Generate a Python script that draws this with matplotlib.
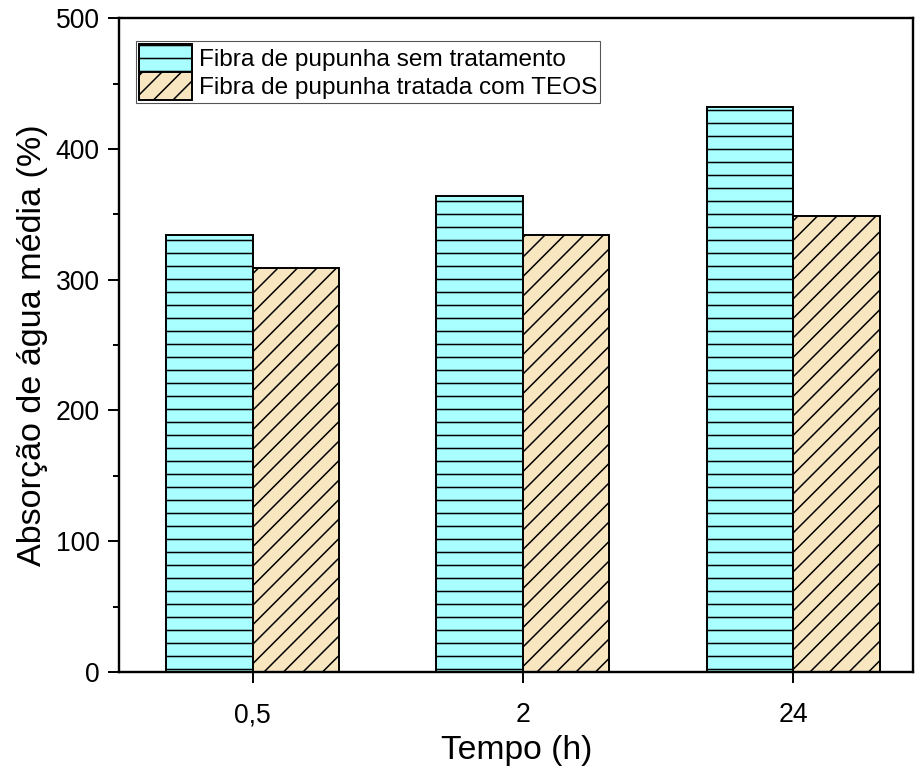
import numpy as np
import matplotlib
matplotlib.use('Agg')
import matplotlib.pyplot as plt
import matplotlib.hatch as mhatch
from matplotlib.ticker import MultipleLocator

tempos = ['0,5', '2', '24']
sem_tratamento = [334, 364, 432]
com_teos = [309, 334, 349]


# diagonal hatch a bit denser than the default '/' (8 lines per tile, seamless)
class DiagHatch(mhatch.NorthEastHatch):
    def __init__(self, hatch, density):
        super().__init__(hatch, density * 1.34)

mhatch._hatch_types[mhatch._hatch_types.index(mhatch.NorthEastHatch)] = DiagHatch

plt.rcParams['font.family'] = ['Liberation Sans', 'DejaVu Sans']
plt.rcParams['hatch.linewidth'] = 1.4

dpi = 78
fig = plt.figure(figsize=(917 / dpi, 767 / dpi), dpi=dpi)
ax = fig.add_axes([0.130, 0.124, 0.866, 0.852])

x = np.arange(1, len(tempos) + 1)
w = 0.32
ax.bar(x - w / 2, sem_tratamento, w, color='#A9FFFF', edgecolor='black',
       linewidth=1.8, hatch='-', label='Fibra de pupunha sem tratamento')
ax.bar(x + w / 2, com_teos, w, color='#F7E6C0', edgecolor='black',
       linewidth=1.8, hatch='/', label='Fibra de pupunha tratada com TEOS')

ax.set_xlim(0.507, 3.444)
ax.set_ylim(0, 500)
ax.set_xticks(x)
ax.set_xticklabels(tempos)
ax.yaxis.set_major_locator(MultipleLocator(100))
ax.yaxis.set_minor_locator(MultipleLocator(50))

for s in ax.spines.values():
    s.set_linewidth(2.2)
ax.tick_params(axis='both', which='major', direction='out', length=10, width=1.8,
               labelsize=24.5)
ax.tick_params(axis='y', which='minor', direction='out', length=5.5, width=1.8)
ax.tick_params(axis='y', pad=8)
ax.tick_params(axis='x', pad=18)

ax.set_xlabel('Tempo (h)', fontsize=31, labelpad=6)
ax.set_ylabel('Absorção de água média (%)', fontsize=31.5, labelpad=7)

leg = ax.legend(loc='upper left', bbox_to_anchor=(0.021, 0.966), fontsize=22.5,
                fancybox=False, edgecolor='#555555', framealpha=1,
                handlelength=2.2, handleheight=1.4, handletextpad=0.25,
                borderpad=0.12, labelspacing=0.0, borderaxespad=0)
leg.get_frame().set_linewidth(1.0)

fig.savefig('out.png', dpi=dpi)
